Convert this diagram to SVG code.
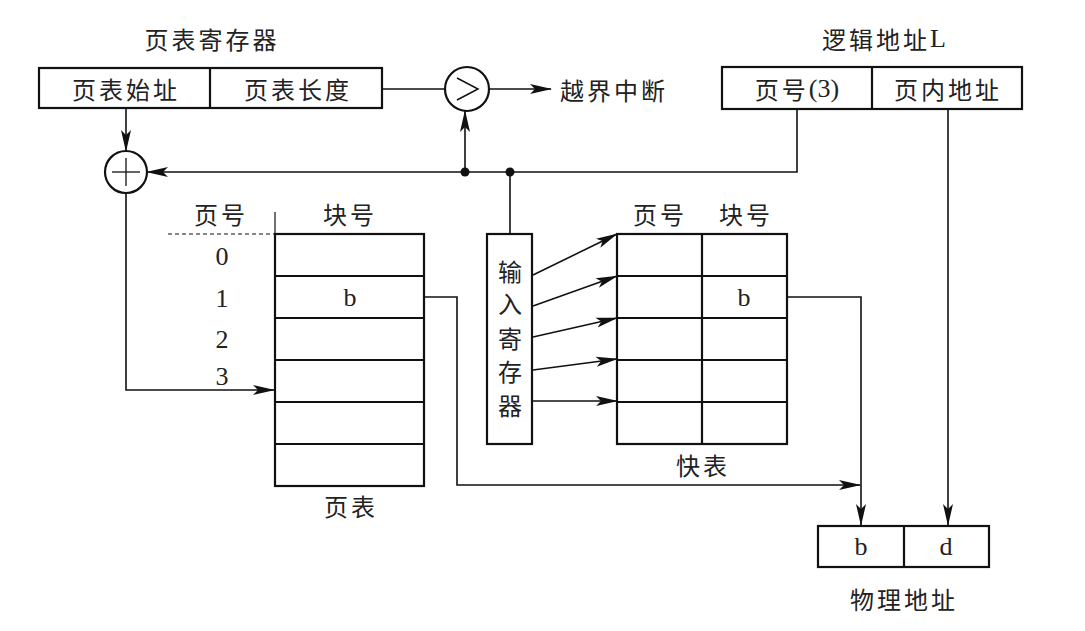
<svg xmlns="http://www.w3.org/2000/svg" width="1085" height="631" viewBox="0 0 1085 631">
<defs>
<marker id="ah" markerWidth="22" markerHeight="12" refX="21" refY="6" orient="auto" markerUnits="userSpaceOnUse">
<path d="M0,1 L22,6 L0,11 L5,6 Z" fill="#111"/>
</marker>
<style>
.box{fill:#fff;stroke:#111;stroke-width:2.2}
.ln{fill:none;stroke:#111;stroke-width:1.6}
.cn{font-family:"Noto Sans CJK SC","Noto Sans CJK TC",sans-serif;font-size:24px;fill:#222;letter-spacing:3px}
.lt{font-family:"Liberation Serif","Noto Sans CJK SC",serif;font-size:26px;fill:#222}
text{dominant-baseline:central}
</style>
</defs>
<rect width="1085" height="631" fill="#fff"/>

<g id="page-table-register">
<text class="cn" x="212" y="38" text-anchor="middle">页表寄存器</text>
<rect class="box" x="39" y="68" width="343" height="40"/>
<line class="ln" x1="210" y1="68" x2="210" y2="108" style="stroke-width:2.2"/>
<text class="cn" x="126" y="88" text-anchor="middle">页表始址</text>
<text class="cn" x="298" y="88" text-anchor="middle">页表长度</text>
</g>

<g id="comparator">
<circle class="box" cx="467" cy="89" r="22"/>
<path class="ln" d="M457,78 L478,89 L457,100" style="stroke-width:1.5"/>
</g>

<g id="overflow">
<text class="cn" x="560" y="89">越界中断</text>
</g>

<g id="adder">
<circle class="box" cx="126" cy="172" r="21"/>
<line class="ln" x1="112" y1="172" x2="140" y2="172" style="stroke-width:1.3"/>
<line class="ln" x1="126" y1="158" x2="126" y2="186" style="stroke-width:1.3"/>
</g>

<g id="logical-address">
<text class="lt" x="884" y="38" text-anchor="middle"><tspan class="cn" style="font-size:24px">逻辑地址</tspan>L</text>
<rect class="box" x="722" y="67" width="300" height="42"/>
<line class="ln" x1="872" y1="67" x2="872" y2="109" style="stroke-width:2.2"/>
<text x="797" y="88" text-anchor="middle"><tspan class="cn">页号</tspan><tspan class="lt">(3)</tspan></text>
<text class="cn" x="948" y="88" text-anchor="middle">页内地址</text>
</g>

<g id="page-table">
<text class="cn" x="221" y="213" text-anchor="middle">页号</text>
<text class="cn" x="350" y="213" text-anchor="middle">块号</text>
<line class="ln" x1="275" y1="212" x2="275" y2="234" style="stroke-width:1.2"/>
<line class="ln" x1="168" y1="234" x2="275" y2="234" style="stroke-width:1.2;stroke-dasharray:4 3"/>
<rect class="box" x="275" y="234" width="149" height="252"/>
<line class="ln" x1="275" y1="276" x2="424" y2="276" style="stroke-width:2.2"/>
<line class="ln" x1="275" y1="318" x2="424" y2="318" style="stroke-width:2.2"/>
<line class="ln" x1="275" y1="360" x2="424" y2="360" style="stroke-width:2.2"/>
<line class="ln" x1="275" y1="402" x2="424" y2="402" style="stroke-width:2.2"/>
<line class="ln" x1="275" y1="444" x2="424" y2="444" style="stroke-width:2.2"/>
<text class="lt" x="222" y="256" text-anchor="middle">0</text>
<text class="lt" x="222" y="298" text-anchor="middle">1</text>
<text class="lt" x="222" y="339" text-anchor="middle">2</text>
<text class="lt" x="222" y="376" text-anchor="middle">3</text>
<text class="lt" x="350" y="297" text-anchor="middle">b</text>
<text class="cn" x="351" y="505" text-anchor="middle">页表</text>
</g>

<g id="input-register">
<rect class="box" x="487" y="234" width="45" height="210"/>
<text class="cn" x="510" y="270" text-anchor="middle" style="letter-spacing:0">输</text>
<text class="cn" x="510" y="302" text-anchor="middle" style="letter-spacing:0">入</text>
<text class="cn" x="510" y="337" text-anchor="middle" style="letter-spacing:0">寄</text>
<text class="cn" x="510" y="370" text-anchor="middle" style="letter-spacing:0">存</text>
<text class="cn" x="510" y="404" text-anchor="middle" style="letter-spacing:0">器</text>
</g>

<g id="fast-table">
<text class="cn" x="660" y="213" text-anchor="middle">页号</text>
<text class="cn" x="746" y="213" text-anchor="middle">块号</text>
<rect class="box" x="617" y="234" width="170" height="210"/>
<line class="ln" x1="702" y1="234" x2="702" y2="444" style="stroke-width:2.2"/>
<line class="ln" x1="617" y1="276" x2="787" y2="276" style="stroke-width:2.2"/>
<line class="ln" x1="617" y1="318" x2="787" y2="318" style="stroke-width:2.2"/>
<line class="ln" x1="617" y1="360" x2="787" y2="360" style="stroke-width:2.2"/>
<line class="ln" x1="617" y1="402" x2="787" y2="402" style="stroke-width:2.2"/>
<text class="lt" x="744" y="297" text-anchor="middle">b</text>
<text class="cn" x="703" y="464" text-anchor="middle">快表</text>
</g>

<g id="physical-address">
<rect class="box" x="818" y="526" width="171" height="41"/>
<line class="ln" x1="904" y1="526" x2="904" y2="567" style="stroke-width:2.2"/>
<text class="lt" x="861" y="546" text-anchor="middle">b</text>
<text class="lt" x="946" y="546" text-anchor="middle">d</text>
<text class="cn" x="904" y="598" text-anchor="middle">物理地址</text>
</g>

<g id="connectors">
<line class="ln" x1="382" y1="89" x2="445" y2="89"/>
<line class="ln" x1="489" y1="89" x2="551" y2="89" marker-end="url(#ah)"/>
<line class="ln" x1="126" y1="108" x2="126" y2="151" marker-end="url(#ah)"/>
<polyline class="ln" points="797,109 797,172 147,172" marker-end="url(#ah)"/>
<line class="ln" x1="465" y1="172" x2="465" y2="111" marker-end="url(#ah)"/>
<circle cx="465" cy="172" r="4.5" fill="#111"/>
<circle cx="510" cy="172" r="4.5" fill="#111"/>
<line class="ln" x1="510" y1="172" x2="510" y2="234"/>
<polyline class="ln" points="126,193 126,390 274,390" marker-end="url(#ah)"/>
<line class="ln" x1="533" y1="275" x2="617" y2="234" marker-end="url(#ah)"/>
<line class="ln" x1="533" y1="306" x2="617" y2="276" marker-end="url(#ah)"/>
<line class="ln" x1="533" y1="337" x2="617" y2="318" marker-end="url(#ah)"/>
<line class="ln" x1="533" y1="370" x2="617" y2="359" marker-end="url(#ah)"/>
<line class="ln" x1="533" y1="401" x2="617" y2="401" marker-end="url(#ah)"/>
<polyline class="ln" points="424,297 457,297 457,485 860,485" marker-end="url(#ah)"/>
<polyline class="ln" points="787,297 861,297 861,525" marker-end="url(#ah)"/>
<line class="ln" x1="948" y1="109" x2="948" y2="525" marker-end="url(#ah)"/>
</g>
</svg>
